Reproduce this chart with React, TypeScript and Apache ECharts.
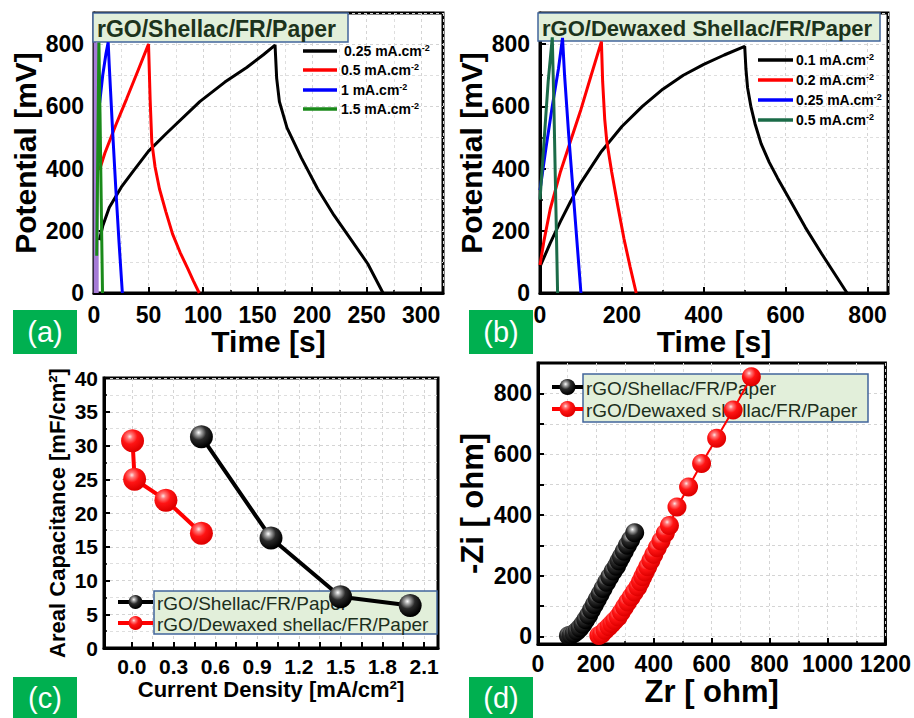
import React, { useEffect, useRef } from 'react';
import * as echarts from 'echarts';

const FONT = '"Liberation Sans", Arial, Helvetica, sans-serif';

// ---------- Panel (a): rGO/Shellac/FR/Paper, GCD ----------
const A_CURRENTS = ['0.25', '0.5', '1', '1.5'];
const A_COLORS = ['#000000', '#ff0000', '#0000ff', '#1a8a1a'];
const A_025 = [[5,170],[8,215],[14,275],[25,340],[36,392],[50,456],[67,515],[97,615],[120,678],[140,725],[155,765],[166,797],[167.5,690],[170,615],[177,531],[190,435],[205,335],[220,250],[236,170],[251,94],[265,0]];
const A_05 = [[5,395],[10,450],[20,540],[30,625],[40,712],[50,800],[51.5,620],[53,485],[56,405],[60,335],[66,260],[72,190],[79,130],[86,78],[91,40],[96.5,0]];
const A_1 = [[5.2,611],[8,700],[11,770],[13,806],[14,730],[17,525],[20,335],[23,160],[26,0]];
const A_15 = [[2.5,120],[4.5,805],[5.5,580],[6.8,250],[7.8,0]];
const A_PURPLE = [[2,0],[2,805]];
const A_X_RANGE = [0, 320];
const A_Y_RANGE = [0, 900];

// ---------- Panel (b): rGO/Dewaxed Shellac/FR/Paper, GCD ----------
const B_CURRENTS = ['0.1', '0.2', '0.25', '0.5'];
const B_COLORS = ['#000000', '#ff0000', '#0000ff', '#1b6b48'];
const B_01 = [[0,85],[25,160],[50,230],[75,295],[100,355],[150,455],[200,535],[250,600],[300,655],[350,700],[400,735],[450,765],[500,793],[503,720],[507,660],[515,600],[525,545],[540,480],[560,420],[580,370],[607,307],[648,211],[688,126],[750,0]];
const B_02 = [[0,90],[10,170],[25,270],[50,390],[75,490],[100,590],[125,700],[150,808],[153,680],[158,560],[163,489],[175,390],[190,280],[205,175],[220,85],[235,0]];
const B_025 = [[0,330],[15,470],[30,600],[45,720],[55,820],[60,700],[70,510],[80,340],[90,170],[100,0]];
const B_05 = [[0,300],[10,490],[20,680],[30,822],[34,600],[38,330],[43,0]];
const B_X_RANGE = [0, 850];
const B_Y_RANGE = [0, 900];

// ---------- Panel (c): areal capacitance ----------
const C_SHELLAC_J = [0.5, 1.0, 1.5, 2.0];
const C_SHELLAC_CAP = [31.3, 16.3, 7.6, 6.3];
const C_DEWAXED_J = [0.005, 0.02, 0.245, 0.5];
const C_DEWAXED_CAP = [30.7, 25.0, 21.9, 17.0];
const C_X_LABELS = [0, 0.3, 0.6, 0.9, 1.2, 1.5, 1.8, 2.1];
const C_X_TICKS = [0, 0.15, 0.3, 0.45, 0.6, 0.75, 0.9, 1.05, 1.2, 1.35, 1.5, 1.65, 1.8, 1.95, 2.1];

// ---------- Panel (d): Nyquist ----------
const D_SHELLAC = [[105,2],[115,5],[125,10],[135,18],[145,28],[155,40],[165,55],[175,70],[185,88],[195,105],[205,122],[215,140],[225,158],[237,178],[248,196],[260,215],[271,231],[280,248],[288,262],[298,280],[309,300],[320,318],[334,341]];
const D_DEWAXED = [[210,3],[220,8],[232,20],[245,32],[255,42],[265,52],[277,64],[288,80],[299,97],[310,113],[322,130],[333,146],[345,163],[354,180],[362,196],[370,212],[379,229],[390,250],[400,270],[412,292],[425,314],[440,340],[454,365],[480,426],[520,492],[565,569],[617,652],[674,745],[737,855]];
const D_Y_LABELS = [0, 200, 400, 600, 800];
const D_Y_TICKS = [0, 100, 200, 300, 400, 500, 600, 700, 800];

const LEGEND_NAMES = ['rGO/Shellac/FR/Paper', 'rGO/Dewaxed shellac/FR/Paper'];

function ball(kind: 'black' | 'red') {
  const stops = kind === 'black'
    ? [
        { offset: 0, color: '#ffffff' },
        { offset: 0.18, color: '#a8a8a8' },
        { offset: 0.5, color: '#2a2a2a' },
        { offset: 1, color: '#000000' },
      ]
    : [
        { offset: 0, color: '#ffe6e6' },
        { offset: 0.18, color: '#ff7a7a' },
        { offset: 0.5, color: '#ff1414' },
        { offset: 1, color: '#e00000' },
      ];
  return new echarts.graphic.RadialGradient(0.38, 0.32, 0.65, stops);
}

function valueAxis(gridIndex: number, o: any) {
  const labelSize = o.labelSize ?? 23;
  return {
    type: 'value',
    gridIndex,
    min: o.min,
    max: o.max,
    interval: o.interval,
    name: o.name,
    nameLocation: 'middle',
    nameGap: o.nameGap,
    nameTextStyle: { color: '#000', fontWeight: 'bold', fontFamily: FONT, fontSize: o.nameSize ?? 30 },
    axisLine: { show: true, onZero: false, lineStyle: { color: '#000', width: 3 } },
    axisTick: { show: true, inside: true, length: 6, lineStyle: { color: '#000', width: 2 }, ...(o.tickValues ? { customValues: o.tickValues } : {}) },
    minorTick: { show: !o.tickValues, splitNumber: 2, length: 3, lineStyle: { color: '#000', width: 1.5 } },
    splitLine: { show: true, lineStyle: { color: '#d4d4d4', type: [3, 3], width: 1 } },
    minorSplitLine: { show: !o.tickValues, lineStyle: { color: '#dedede', type: [3, 3], width: 1 } },
    axisLabel: {
      color: '#000',
      fontWeight: 'bold',
      fontFamily: FONT,
      fontSize: labelSize,
      margin: o.margin ?? 10,
      ...(o.labelValues ? { customValues: o.labelValues } : {}),
      formatter: o.formatter ?? ((v: number) => String(v)),
    },
  };
}

function toPairs(xs: number[], ys: number[]) {
  return xs.map((x, i) => [x, ys[i]]);
}

function gcdSeries(name: string, data: number[][], color: string, gi: number, width = 3) {
  return {
    type: 'line',
    name,
    xAxisIndex: gi,
    yAxisIndex: gi,
    data,
    showSymbol: false,
    symbol: 'none',
    lineStyle: { color, width },
    itemStyle: { color },
    z: 3,
  };
}

function titleBox(x: number, y: number, w: number, h: number, text: string, size: number) {
  return [
    { type: 'rect', z: 1, shape: { x, y, width: w, height: h }, style: { fill: '#e2efda', stroke: '#41669c', lineWidth: 1.5 } },
    { type: 'text', z: 1, x: x + 4, y: y + h / 2 + 1, style: { text, fill: '#1c331c', font: `bold ${size}px ${FONT}`, verticalAlign: 'middle', align: 'left' } },
  ];
}

function panelLabel(x: number, y: number, w: number, h: number, text: string) {
  return [
    { type: 'rect', shape: { x, y, width: w, height: h }, style: { fill: '#00b050' } },
    { type: 'text', x: x + w / 2, y: y + h / 2, style: { text, fill: '#ffffff', font: `29px ${FONT}`, align: 'center', verticalAlign: 'middle' } },
  ];
}

function gcdLegend(x1: number, x2: number, tx: number[], ys: number[], currents: string[], colors: string[]) {
  const els: any[] = [];
  currents.forEach((c, i) => {
    els.push({ type: 'line', z: 5, shape: { x1, y1: ys[i], x2, y2: ys[i] }, style: { stroke: colors[i], lineWidth: 3.5 } });
    els.push({
      type: 'text', z: 5, x: tx[i], y: ys[i],
      style: {
        text: `{n|${c} mA.cm}{s|-2}`,
        verticalAlign: 'middle', align: 'left',
        rich: {
          n: { fontSize: 14, fontWeight: 'bold', fontFamily: FONT, fill: '#000', lineHeight: 16 },
          s: { fontSize: 9, fontWeight: 'bold', fontFamily: FONT, fill: '#000', verticalAlign: 'top', lineHeight: 16 },
        },
      },
    });
  });
  return els;
}

function markerLegend(box: number[], lx1: number, lx2: number, ys: number[], tx: number, r: number) {
  const [bx, by, bw, bh] = box;
  const els: any[] = [
    { type: 'rect', z: 1, shape: { x: bx, y: by, width: bw, height: bh }, style: { fill: '#e2efda', stroke: '#41669c', lineWidth: 1.5 } },
  ];
  const kinds: ('black' | 'red')[] = ['black', 'red'];
  kinds.forEach((k, i) => {
    const col = k === 'black' ? '#000' : '#ff0000';
    els.push({ type: 'line', z: 1, shape: { x1: lx1, y1: ys[i], x2: lx2, y2: ys[i] }, style: { stroke: col, lineWidth: 4 } });
    els.push({ type: 'circle', z: 1, shape: { cx: (lx1 + lx2) / 2, cy: ys[i], r }, style: { fill: ball(k) } });
    els.push({ type: 'text', z: 1, x: tx, y: ys[i] + 1, style: { text: LEGEND_NAMES[i], fill: '#1c2e1c', font: `19px ${FONT}`, verticalAlign: 'middle', align: 'left', lineHeight: 19 } });
  });
  return els;
}

function buildOption() {
  const gridCommon = { show: true, borderColor: '#000', borderWidth: 3, backgroundColor: '#fff', containLabel: false };
  return {
    animation: false,
    backgroundColor: '#fff',
    grid: [
      { ...gridCommon, left: 94, top: 13, width: 349, height: 280 },
      { ...gridCommon, left: 540, top: 13, width: 348, height: 280 },
      { ...gridCommon, left: 104, top: 378, width: 334, height: 270 },
      { ...gridCommon, left: 538, top: 363, width: 349, height: 281 },
    ],
    xAxis: [
      valueAxis(0, { min: A_X_RANGE[0], max: A_X_RANGE[1], interval: 50, name: 'Time [s]', nameGap: 30, formatter: (v: number) => (v % 50 === 0 ? String(v) : '') }),
      valueAxis(1, { min: B_X_RANGE[0], max: B_X_RANGE[1], interval: 200, name: 'Time [s]', nameGap: 30, formatter: (v: number) => (v % 200 === 0 ? String(v) : '') }),
      valueAxis(2, { min: -0.2, max: 2.2, name: 'Current Density [mA/cm²]', nameGap: 30, nameSize: 22, labelSize: 21, margin: 8, labelValues: C_X_LABELS, tickValues: C_X_TICKS, formatter: (v: number) => v.toFixed(1) }),
      valueAxis(3, { min: 0, max: 1200, interval: 200, name: 'Zr [ ohm]', nameGap: 32, nameSize: 31, margin: 8, formatter: (v: number) => String(v) }),
    ],
    yAxis: [
      valueAxis(0, { min: A_Y_RANGE[0], max: A_Y_RANGE[1], interval: 200, name: 'Potential [mV]', nameGap: 54, formatter: (v: number) => (v % 200 === 0 ? String(v) : '') }),
      valueAxis(1, { min: B_Y_RANGE[0], max: B_Y_RANGE[1], interval: 200, name: 'Potential [mV]', nameGap: 54, formatter: (v: number) => (v % 200 === 0 ? String(v) : '') }),
      valueAxis(2, { min: 0, max: 40, interval: 5, name: 'Areal Capacitance [mF/cm²]', nameGap: 36, nameSize: 22, labelSize: 21, margin: 6 }),
      valueAxis(3, { min: -25, max: 900, name: '-Zi [ ohm]', nameGap: 50, nameSize: 31, margin: 6, labelValues: D_Y_LABELS, tickValues: D_Y_TICKS, formatter: (v: number) => String(v) }),
    ],
    series: [
      { ...gcdSeries('unlabelled trace', A_PURPLE, '#a57bd6', 0, 5), z: 2 },
      gcdSeries(`${A_CURRENTS[0]} mA.cm-2`, A_025, A_COLORS[0], 0),
      gcdSeries(`${A_CURRENTS[1]} mA.cm-2`, A_05, A_COLORS[1], 0),
      gcdSeries(`${A_CURRENTS[2]} mA.cm-2`, A_1, A_COLORS[2], 0),
      gcdSeries(`${A_CURRENTS[3]} mA.cm-2`, A_15, A_COLORS[3], 0),
      gcdSeries(`${B_CURRENTS[0]} mA.cm-2 (dewaxed)`, B_01, B_COLORS[0], 1),
      gcdSeries(`${B_CURRENTS[1]} mA.cm-2 (dewaxed)`, B_02, B_COLORS[1], 1),
      gcdSeries(`${B_CURRENTS[2]} mA.cm-2 (dewaxed)`, B_025, B_COLORS[2], 1),
      gcdSeries(`${B_CURRENTS[3]} mA.cm-2 (dewaxed)`, B_05, B_COLORS[3], 1),
      {
        type: 'line', name: LEGEND_NAMES[0], xAxisIndex: 2, yAxisIndex: 2,
        data: toPairs(C_SHELLAC_J, C_SHELLAC_CAP), symbol: 'circle', symbolSize: 23, showSymbol: true,
        lineStyle: { color: '#000', width: 4 }, itemStyle: { color: ball('black') }, z: 3,
      },
      {
        type: 'line', name: LEGEND_NAMES[1], xAxisIndex: 2, yAxisIndex: 2,
        data: toPairs(C_DEWAXED_J, C_DEWAXED_CAP), symbol: 'circle', symbolSize: 23, showSymbol: true,
        lineStyle: { color: '#ff0000', width: 4 }, itemStyle: { color: ball('red') }, z: 3,
      },
      {
        type: 'line', name: LEGEND_NAMES[0] + ' (EIS)', xAxisIndex: 3, yAxisIndex: 3,
        data: D_SHELLAC, symbol: 'circle', symbolSize: 19, showSymbol: true,
        lineStyle: { color: '#000', width: 2 }, itemStyle: { color: ball('black') }, z: 3,
      },
      {
        type: 'line', name: LEGEND_NAMES[1] + ' (EIS)', xAxisIndex: 3, yAxisIndex: 3,
        data: D_DEWAXED, symbol: 'circle', symbolSize: 19, showSymbol: true,
        lineStyle: { color: '#ff0000', width: 2 }, itemStyle: { color: ball('red') }, z: 3,
      },
    ],
    graphic: [
      ...titleBox(93, 13, 255, 29, 'rGO/Shellac/FR/Paper', 23),
      ...titleBox(538, 13, 342, 28, 'rGO/Dewaxed Shellac/FR/Paper', 22),
      ...gcdLegend(303, 337, [344, 341, 341, 341], [51, 70, 90, 109], A_CURRENTS, A_COLORS),
      ...gcdLegend(758, 793, [796, 796, 796, 796], [60, 80, 100, 120], B_CURRENTS, B_COLORS),
      ...markerLegend([154, 591, 283, 43], 118, 153, [602, 623], 157, 7),
      ...markerLegend([583, 374, 285, 48], 552, 583, [387, 409], 586, 8),
      ...panelLabel(13, 310, 64, 44, '(a)'),
      ...panelLabel(469, 310, 64, 44, '(b)'),
      ...panelLabel(13, 677, 64, 41, '(c)'),
      ...panelLabel(469, 677, 64, 41, '(d)'),
    ],
  };
}

export default function App() {
  const ref = useRef<HTMLDivElement>(null);
  useEffect(() => {
    document.body.style.margin = '0';
    const chart = echarts.init(ref.current!, null, { renderer: 'svg' });
    chart.setOption(buildOption() as any);
    return () => chart.dispose();
  }, []);
  return <div ref={ref} style={{ width: 914, height: 718 }} />;
}
